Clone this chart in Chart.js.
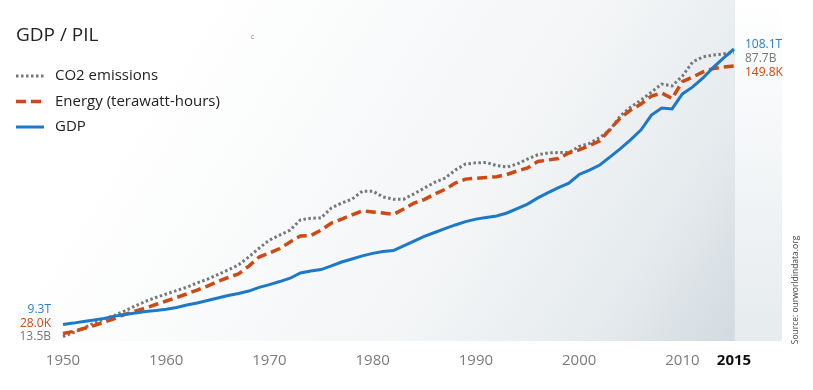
<!DOCTYPE html>
<html lang="en">
<head>
<meta charset="UTF-8">
<title>GDP / PIL</title>
<script src="https://cdn.jsdelivr.net/npm/chart.js"></script>
<style>
  body { margin: 0; background: #ffffff; }
  #wrap { width: 813px; height: 390px; }
</style>
</head>
<body>
<div id="wrap"><canvas id="grafico" width="813" height="390"></canvas></div>
<script>
// dados
const anos = [1950, 1951, 1952, 1953, 1954, 1955, 1956, 1957, 1958, 1959,
  1960, 1961, 1962, 1963, 1964, 1965, 1966, 1967, 1968, 1969,
  1970, 1971, 1972, 1973, 1974, 1975, 1976, 1977, 1978, 1979,
  1980, 1981, 1982, 1983, 1984, 1985, 1986, 1987, 1988, 1989,
  1990, 1991, 1992, 1993, 1994, 1995, 1996, 1997, 1998, 1999,
  2000, 2001, 2002, 2003, 2004, 2005, 2006, 2007, 2008, 2009,
  2010, 2011, 2012, 2013, 2014, 2015];

// CO2 emissions (billions)
const co2 = [13.5, 14.5, 15.7, 17.0, 18.1, 19.0, 20.2, 21.5, 22.7, 23.7,
  24.6, 25.5, 26.4, 27.5, 28.5, 29.7, 30.9, 32.2, 34.3, 36.6,
  38.7, 40.0, 41.3, 44.0, 44.4, 44.5, 47.1, 48.4, 49.4, 51.5,
  51.5, 50.0, 49.4, 49.4, 50.8, 52.3, 53.8, 54.9, 57.0, 58.6,
  58.9, 59.0, 58.2, 57.8, 58.6, 59.9, 61.0, 61.5, 61.6, 61.6,
  63.2, 64.0, 65.5, 67.5, 71.2, 73.5, 75.3, 77.4, 79.5, 79.0,
  81.6, 85.3, 86.6, 87.1, 87.4, 87.7];

// Energy (thousand terawatt-hours)
const energia = [28.0, 28.9, 30.3, 31.6, 33.2, 34.8, 36.7, 38.2, 39.6, 41.2,
  42.8, 44.4, 46.0, 47.8, 49.6, 51.7, 53.5, 55.1, 58.7, 62.8,
  64.7, 66.7, 69.7, 72.4, 72.6, 75.1, 78.3, 80.1, 82.0, 83.8,
  83.3, 82.9, 82.2, 84.7, 87.4, 89.0, 91.5, 93.6, 96.5, 98.3,
  98.7, 99.0, 99.4, 100.4, 102.0, 103.4, 106.3, 107.0, 107.7, 110.2,
  111.6, 113.6, 115.7, 121.1, 126.1, 129.8, 132.5, 136.1, 137.5, 135.0,
  142.7, 144.8, 147.1, 148.7, 149.3, 149.8];

// GDP (trillions)
const pib = [9.3, 9.8, 10.4, 10.9, 11.5, 12.3, 12.9, 13.4, 14.0, 14.3,
  14.8, 15.4, 16.3, 17.0, 17.9, 18.8, 19.7, 20.4, 21.3, 22.6,
  23.6, 24.7, 25.9, 27.8, 28.5, 29.0, 30.3, 31.7, 32.8, 33.9,
  34.8, 35.5, 35.8, 37.5, 39.2, 40.9, 42.3, 43.7, 45.0, 46.2,
  47.1, 47.7, 48.2, 49.3, 50.9, 52.5, 54.7, 56.6, 58.4, 60.0,
  63.1, 64.7, 66.5, 69.4, 72.4, 75.6, 79.1, 84.4, 86.9, 86.6,
  92.0, 94.5, 97.7, 101.5, 104.9, 108.1];

const anosEixo = [1950, 1960, 1970, 1980, 1990, 2000, 2010, 2015];

const fonte = "'Open Sans', 'Noto Sans', sans-serif";
Chart.defaults.font.family = fonte;

function pontos(valores) {
  return anos.map((a, i) => ({ x: a, y: valores[i] }));
}

function ehFim(c) {
  return !!(c && c.tick && c.tick.value === 2015);
}

// fundo, titulo, legenda e rotulos das pontas
const decoracao = {
  id: 'decoracao',
  beforeDraw(chart) {
    const { ctx, chartArea: area, scales: { x } } = chart;
    const xFim = x.getPixelForValue(2015);
    ctx.save();
    let g = ctx.createLinearGradient(200, 0, xFim, area.bottom);
    g.addColorStop(0, '#ffffff');
    g.addColorStop(0.55, '#f3f5f6');
    g.addColorStop(0.8, '#e6ebee');
    g.addColorStop(1, '#d2dbe0');
    ctx.fillStyle = g;
    ctx.fillRect(0, 0, xFim, area.bottom);
    g = ctx.createLinearGradient(0, 0, 0, area.bottom);
    g.addColorStop(0, '#ffffff');
    g.addColorStop(1, '#e6ebee');
    ctx.fillStyle = g;
    ctx.fillRect(xFim, 0, area.right - xFim, area.bottom);
    ctx.fillStyle = 'rgba(180,195,202,0.3)';
    ctx.fillRect(xFim, 0, 1, area.bottom);
    ctx.restore();
  },
  afterDraw(chart) {
    const ctx = chart.ctx;
    ctx.save();
    ctx.textBaseline = 'middle';

    // titulo
    ctx.fillStyle = '#222222';
    ctx.font = `19px ${fonte}`;
    ctx.textAlign = 'left';
    ctx.fillText('GDP / PIL', 16, 36);
    ctx.fillStyle = '#888888';
    ctx.font = `7px ${fonte}`;
    ctx.fillText('c', 251, 37);

    // legenda
    chart.data.datasets.forEach((ds, i) => {
      const y = 76 + i * 25.5;
      ctx.save();
      ctx.strokeStyle = ds.borderColor;
      ctx.lineWidth = ds.borderWidth;
      ctx.setLineDash(ds.borderDash || []);
      ctx.beginPath();
      ctx.moveTo(16, y);
      ctx.lineTo(44, y);
      ctx.stroke();
      ctx.restore();
      ctx.fillStyle = '#222222';
      ctx.font = `15px ${fonte}`;
      ctx.fillText(ds.label, 55, y);
    });

    // rotulos do inicio e do fim
    ctx.font = `12px ${fonte}`;
    const inicio = chart.data.datasets.map((ds, i) => ({ ds, y: chart.getDatasetMeta(i).data[0].y, v: ds.data[0].y }));
    inicio.sort((a, b) => b.y - a.y);
    const base = inicio[0].y;
    ctx.textAlign = 'right';
    inicio.forEach((r, k) => {
      ctx.fillStyle = r.ds.corRotulo;
      ctx.fillText(r.v.toFixed(1) + r.ds.unidade, 51, base + 0.5 - 13.5 * k);
    });

    const fim = chart.data.datasets.map((ds, i) => {
      const meta = chart.getDatasetMeta(i);
      const n = meta.data.length - 1;
      return { ds, y: meta.data[n].y, x: meta.data[n].x, v: ds.data[n].y };
    });
    fim.sort((a, b) => a.y - b.y);
    const topo = fim[0].y;
    ctx.textAlign = 'left';
    fim.forEach((r, k) => {
      ctx.fillStyle = r.ds.corRotulo;
      ctx.fillText(r.v.toFixed(1) + r.ds.unidade, r.x + 11, topo - 4 + 14 * k);
    });

    // fonte dos dados
    ctx.translate(796, 290);
    ctx.rotate(-Math.PI / 2);
    ctx.textAlign = 'center';
    ctx.fillStyle = '#444444';
    ctx.font = `8.5px ${fonte}`;
    ctx.fillText('Source: ourworldindata.org', 0, 0);
    ctx.restore();
  }
};

new Chart(document.getElementById('grafico'), {
  type: 'line',
  data: {
    datasets: [
      {
        label: 'CO2 emissions',
        data: pontos(co2),
        yAxisID: 'yCO2',
        borderColor: '#777777',
        borderWidth: 3,
        borderDash: [2.5, 2.5],
        unidade: 'B',
        corRotulo: '#777777',
        order: 2
      },
      {
        label: 'Energy (terawatt-hours)',
        data: pontos(energia),
        yAxisID: 'yEnergia',
        borderColor: '#cc4a14',
        borderWidth: 3.5,
        borderDash: [10, 5],
        unidade: 'K',
        corRotulo: '#cc4a14',
        order: 1
      },
      {
        label: 'GDP',
        data: pontos(pib),
        yAxisID: 'yPib',
        borderColor: '#1c78c8',
        borderWidth: 3,
        unidade: 'T',
        corRotulo: '#2a7fc6',
        order: 0
      }
    ]
  },
  options: {
    responsive: false,
    animation: false,
    elements: { point: { radius: 0 }, line: { tension: 0 } },
    layout: { padding: { top: 10, right: 31, bottom: 9, left: 0 } },
    plugins: {
      legend: { display: false },
      tooltip: { enabled: false }
    },
    scales: {
      x: {
        type: 'linear',
        min: 1943.9,
        max: 2019.65,
        grid: { display: false, drawTicks: false },
        border: { display: false },
        afterBuildTicks: (eixo) => { eixo.ticks = anosEixo.map(v => ({ value: v })); },
        ticks: {
          padding: 11,
          autoSkip: false,
          maxRotation: 0,
          callback: (v) => String(v),
          color: (c) => ehFim(c) ? '#111111' : '#7a7a7a',
          font: (c) => ({ size: 15, weight: ehFim(c) ? 'bold' : 'normal' })
        }
      },
      yCO2: { display: false, min: 12.32, max: 98.86 },
      yEnergia: { display: false, min: 24.585, max: 175.3 },
      yPib: { display: false, min: 3.383, max: 122.09 }
    }
  },
  plugins: [decoracao]
});
</script>
</body>
</html>
